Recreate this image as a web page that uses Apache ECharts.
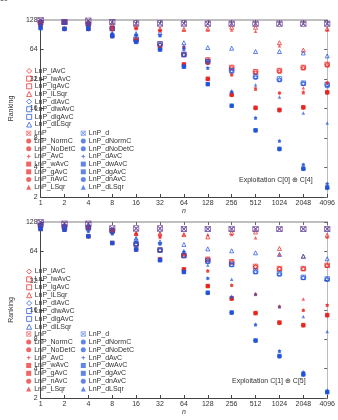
<!DOCTYPE html>
<html>
<head>
<meta charset="utf-8">
<script src="https://cdn.jsdelivr.net/npm/echarts@6/dist/echarts.min.js"></script>
<style>
  html, body { margin: 0; padding: 0; background: #fff; }
  #chart { width: 338px; height: 420px; }
</style>
</head>
<body>
<div id="chart"></div>
<script>
// x values (n) and y tick values
var nVals = [1, 2, 4, 8, 16, 32, 64, 128, 256, 512, 1024, 2048, 4096];
var yTicks = [2, 4, 8, 16, 32, 64, 128];

// ---- upper panel: Exploitation C[0] + C[4] ----
var U_lAvC    = [120, 122, 116, 104, 80, 72, 57, 50, 42, 38, 39, 42, 45];
var U_lwAvC   = [120, 122, 116, 104, 79, 71, 56, 49, 41, 37, 38, 41, 44];
var U_lgAvC   = [120, 122, 116, 105, 81, 73, 57, 50, 42, 38, 39, 42, 45];
var U_lLSqr   = [126, 122, 122, 114, 110, 104, 103, 104, 108, 108, 75, 63, 104];
var U_dlAvC   = [120, 122, 116, 104, 80, 72, 57, 48, 39, 33.5, 31.5, 29, 28];
var U_dlwAvC  = [120, 122, 116, 104, 79, 71, 56, 47, 38, 33, 31, 28.5, 27];
var U_dlgAvC  = [120, 122, 116, 105, 81, 73, 57, 48, 39, 34, 32, 29, 28];
var U_dlLSqr  = [120, 122, 116, 93, 93, 95, 75, 67, 66, 61, 61, 59, 55];
var U_LnP     = [128, 122, 126, 122, 118, 118, 118, 117, 117, 117, 117, 117, 117];
var U_NormC   = [113, 104, 104, 88, 79, 66, 45, 32, 22, 16.3, 15.5, 16.5, 23.5];
var U_NoDetC  = [112, 104, 104, 88, 79, 66, 45, 32.2, 22.2, 16.3, 15.5, 16.5, 23.5];
var U_AvC     = [118, 122, 116, 104, 106, 101, 69, 47, 35.7, 26, 23, 23.7, 29];
var U_wAvC    = [117, 121, 115, 102, 104, 99, 67, 46, 35, 25, 23, 23, 29.3];
var U_gAvC    = [113, 104, 104, 88, 79, 66, 45.2, 32.2, 22.2, 16.3, 15.5, 16.5, 23.5];
var U_nAvC    = [112, 103, 103, 87, 78, 65, 44.5, 31.8, 21.8, 16, 15.2, 16.2, 23];
var U_LSqr    = [124, 122, 120, 110, 106, 101, 101, 101, 101, 98, 70, 26, 101];
var U_d       = [128, 122, 126, 122, 118, 118, 118, 117, 117, 117, 117, 117, 117];
var U_dNormC  = [106, 104, 104, 88, 76.6, 64, 42.8, 28.4, 17.1, 9.6, 6.2, 3.9, 2.5];
var U_dNoDetC = [106, 104, 104, 88, 76.6, 64, 42.8, 28.4, 17.1, 9.6, 6.2, 3.9, 2.5];
var U_dAvC    = [114, 104, 104, 93, 90, 90, 65, 41.8, 24, 12.9, 7.5, 4.3, 2.75];
var U_dwAvC   = [113, 104, 104, 92, 89, 88, 64, 41, 23.5, 12.7, 7.4, 4.25, 2.7];
var U_dgAvC   = [106, 104, 104, 88, 76.6, 64, 42.8, 28.4, 17.1, 9.6, 6.2, 3.9, 2.5];
var U_dnAvC   = [105, 103, 103, 87, 76, 63.5, 42.5, 28.2, 17, 9.5, 6.1, 3.85, 2.45];
var U_dLSqr   = [118, 120, 116, 93, 92, 90, 69, 49, 24, 28, 21, 14.4, 11.4];

// ---- lower panel: Exploitation C[1] + C[5] ----
var L_lAvC    = [118, 114, 112, 104, 76, 66, 58, 52.9, 49.7, 44.5, 42.4, 42.4, 45.9];
var L_lwAvC   = [118, 114, 112, 104, 75.5, 65.5, 57.5, 52.5, 49.2, 44, 42, 42, 45.5];
var L_lgAvC   = [118, 114, 112, 104, 76, 66, 58, 53, 50, 44.8, 42.6, 42.6, 46];
var L_lLSqr   = [118, 114, 112, 104, 97.5, 97.5, 95, 90, 100, 101, 68.5, 57, 93.6];
var L_dlAvC   = [118, 114, 112, 104, 76, 66, 58, 50.5, 46.6, 39.5, 37.5, 34.3, 33.1];
var L_dlwAvC  = [118, 114, 112, 104, 75.5, 65.5, 57.5, 50, 46.2, 39, 37, 34, 32.8];
var L_dlgAvC  = [118, 114, 112, 104, 76, 66, 58, 50.8, 47, 39.8, 37.8, 34.6, 33.3];
var L_dlLSqr  = [118, 114, 112, 104, 87, 80, 75.3, 67.9, 64.8, 61.8, 59.5, 57, 53.7];
var L_LnP     = [128, 123, 123, 110, 110, 110, 108.6, 108.6, 108.6, 108.6, 108.6, 108.6, 108.6];
var L_NormC   = [108.6, 107, 91.5, 78, 67, 53, 41.8, 28.2, 21, 14.9, 11.9, 11.2, 14.2];
var L_NoDetC  = [108.6, 107, 91.5, 78, 67, 53, 41.8, 28.2, 21, 14.9, 11.9, 11.2, 14.2];
var L_AvC     = [110, 107, 112, 104, 97.5, 90, 60, 40.5, 28.9, 23.4, 17.4, 16, 18.1];
var L_wAvC    = [109, 106, 111, 103, 96, 89, 59, 40, 28.5, 23, 17.2, 15.8, 17.8];
var L_gAvC    = [108.6, 107, 91.5, 78, 67, 53, 41.8, 28.2, 21, 14.9, 11.9, 11.2, 14.2];
var L_nAvC    = [108, 106, 91, 77.5, 66.5, 52.5, 41.5, 28, 20.8, 14.7, 11.7, 11, 14];
var L_LSqr    = [118, 114, 112, 104, 97.5, 97.5, 95, 95, 95, 88, 59.5, 20.7, 90];
var L_d       = [128, 123, 123, 110, 110, 110, 108.6, 108.6, 108.6, 108.6, 108.6, 108.6, 108.6];
var L_dNormC  = [108.6, 107, 91.5, 78, 67, 52, 39.3, 24.1, 15.1, 7.8, 5.4, 3.5, 2.3];
var L_dNoDetC = [108.6, 107, 91.5, 78, 67, 52, 39.3, 24.1, 15.1, 7.8, 5.4, 3.5, 2.3];
var L_dAvC    = [110, 107, 103, 97.5, 80, 78, 63.3, 34.1, 22, 11.4, 6.1, 3.7, 2.4];
var L_dwAvC   = [109, 106, 102, 97, 79, 77, 62.5, 33.6, 21.6, 11.2, 6, 3.65, 2.35];
var L_dgAvC   = [108.6, 107, 91.5, 78, 67, 52, 39.3, 24.1, 15.1, 7.8, 5.4, 3.5, 2.3];
var L_dnAvC   = [108, 106, 91, 77.5, 66.5, 51.5, 39, 23.8, 14.9, 7.7, 5.3, 3.45, 2.28];
var L_dLSqr   = [118, 114, 112, 97.5, 87, 76, 65.4, 46.3, 33.1, 23.4, 17.4, 13.7, 9.6];

var legendA = ['LnP_lAvC', 'LnP_lwAvC', 'LnP_lgAvC', 'LnP_lLSqr', 'LnP_dlAvC', 'LnP_dlwAvC', 'LnP_dlgAvC', 'LnP_dlLSqr'];
var legendB = ['LnP', 'LnP_NormC', 'LnP_NoDetC', 'LnP_AvC', 'LnP_wAvC', 'LnP_gAvC', 'LnP_nAvC', 'LnP_LSqr'];
var legendC = ['LnP_d', 'LnP_dNormC', 'LnP_dNoDetC', 'LnP_dAvC', 'LnP_dwAvC', 'LnP_dgAvC', 'LnP_dnAvC', 'LnP_dLSqr'];

var upperRows = [U_lAvC, U_lwAvC, U_lgAvC, U_lLSqr, U_dlAvC, U_dlwAvC, U_dlgAvC, U_dlLSqr,
                 U_LnP, U_NormC, U_NoDetC, U_AvC, U_wAvC, U_gAvC, U_nAvC, U_LSqr,
                 U_d, U_dNormC, U_dNoDetC, U_dAvC, U_dwAvC, U_dgAvC, U_dnAvC, U_dLSqr];
var lowerRows = [L_lAvC, L_lwAvC, L_lgAvC, L_lLSqr, L_dlAvC, L_dlwAvC, L_dlgAvC, L_dlLSqr,
                 L_LnP, L_NormC, L_NoDetC, L_AvC, L_wAvC, L_gAvC, L_nAvC, L_LSqr,
                 L_d, L_dNormC, L_dNoDetC, L_dAvC, L_dwAvC, L_dgAvC, L_dnAvC, L_dLSqr];

var RED = '#e8231f', BLUE = '#1f52dc';
var STAR = 'path://M0,-10L2.6,-2.6L10,0L2.6,2.6L0,10L-2.6,2.6L-10,0L-2.6,-2.6Z';
// square outline with a cross inside
var BOXX = 'path://M-10,-10H10V10H-10Z M-8,-8V8H8V-8Z ' +
           'M-8,-6L-6,-8L0,-2L6,-8L8,-6L2,0L8,6L6,8L0,2L-6,8L-8,6L-2,0Z';

// [symbol, size, hollow, colour] in the same order as the rows
var styles = [
  ['diamond', 4.5, true, RED], ['rect', 3, true, RED], ['rect', 4.5, true, RED], ['triangle', 4, true, RED],
  ['diamond', 4.5, true, BLUE], ['rect', 3, true, BLUE], ['rect', 4.5, true, BLUE], ['triangle', 4, true, BLUE],
  [BOXX, 6, false, RED], ['circle', 4, false, RED], ['circle', 4, false, RED], [STAR, 4.5, false, RED],
  ['rect', 3, false, RED], ['rect', 4.5, false, RED], ['circle', 4, false, RED], ['triangle', 3.5, false, RED],
  [BOXX, 6, false, BLUE], ['circle', 4, false, BLUE], ['circle', 4, false, BLUE], [STAR, 4.5, false, BLUE],
  ['rect', 3, false, BLUE], ['rect', 4.5, false, BLUE], ['circle', 4, false, BLUE], ['triangle', 3.5, false, BLUE]
];
var allNames = legendA.concat(legendB, legendC);

function makeSeries(rows, idx) {
  return rows.map(function (row, k) {
    var s = styles[k];
    return {
      name: allNames[k],
      type: 'scatter',
      xAxisIndex: idx * 2,
      yAxisIndex: idx * 2,
      symbol: s[0],
      symbolSize: s[1],
      clip: false,
      itemStyle: s[2]
        ? { color: 'rgba(255,255,255,0)', borderColor: s[3], borderWidth: 0.9, opacity: 0.8 }
        : { color: s[3], opacity: 0.7 },
      data: nVals.map(function (x, i) { return [x, row[i]]; })
    };
  });
}

function axesFor(g) {
  var lab = { fontSize: 7, color: '#333', fontFamily: 'Liberation Sans', margin: 3,
              formatter: function (v) { return String(Math.round(v)); } };
  return {
    x: [
      { type: 'log', logBase: 2, gridIndex: g, min: 1, max: 4096, interval: 1,
        name: 'n', nameLocation: 'middle', nameGap: 11,
        nameTextStyle: { fontSize: 7, color: '#333', fontFamily: 'Liberation Sans', fontStyle: 'italic' },
        axisLine: { lineStyle: { color: '#444', width: 1 } },
        axisTick: { inside: true, length: 3, lineStyle: { color: '#444' } },
        axisLabel: lab, splitLine: { show: false }, minorTick: { show: false } },
      { type: 'log', logBase: 2, gridIndex: g, min: 1, max: 4096, interval: 1, position: 'top',
        axisLine: { lineStyle: { color: '#aaa', width: 1.5 } },
        axisTick: { inside: true, length: 3, lineStyle: { color: '#666' } },
        axisLabel: { show: false }, splitLine: { show: false } }
    ],
    y: [
      { type: 'log', logBase: 2, gridIndex: g, min: 2, max: 128, interval: 1,
        name: 'Ranking', nameLocation: 'middle', nameGap: 11,
        nameTextStyle: { fontSize: 7, color: '#333', fontFamily: 'Liberation Sans' },
        axisLine: { lineStyle: { color: '#444', width: 1 } },
        axisTick: { inside: true, length: 3, lineStyle: { color: '#444' } },
        axisLabel: lab, splitLine: { show: false } },
      { type: 'log', logBase: 2, gridIndex: g, min: 2, max: 128, interval: 1, position: 'right',
        axisLine: { lineStyle: { color: '#bbb', width: 1 } },
        axisTick: { inside: true, length: 3, lineStyle: { color: '#666' } },
        axisLabel: { show: false }, splitLine: { show: false } }
    ]
  };
}

function legendBlock(names, left, top, gap) {
  return {
    data: names, orient: 'vertical', left: left, top: top, padding: 0,
    itemWidth: 5, itemHeight: 5, itemGap: gap, selectedMode: false,
    itemStyle: { borderWidth: 0.9 },
    textStyle: { fontSize: 7, lineHeight: 7, color: '#333', fontFamily: 'Liberation Sans',
                 padding: [0, 0, 0, -2] }
  };
}

var myChart = echarts.init(document.getElementById('chart'));
var a0 = axesFor(0), a1 = axesFor(1);
var option = {
  animation: false,
  grid: [
    { left: 18, top: 20, width: 312, height: 177 },
    { left: 18, top: 222, width: 312, height: 176 }
  ],
  xAxis: [a0.x[0], a0.x[1], a1.x[0], a1.x[1]],
  yAxis: [a0.y[0], a0.y[1], a1.y[0], a1.y[1]],
  legend: [
    legendBlock(legendA, 26.2, 67.5, 0.65),
    legendBlock(legendB, 26.2, 129.8, 0.7),
    legendBlock(legendC, 80.8, 129.8, 0.7),
    legendBlock(legendA, 26.2, 268, 0.9),
    legendBlock(legendB, 26.2, 330.6, 0.85),
    legendBlock(legendC, 80.8, 330.6, 0.85)
  ],
  graphic: [
    { type: 'text', left: 0, top: -4, style: { text: '10', fontSize: 7, fill: '#333', fontFamily: 'Liberation Sans' } },
    { type: 'text', left: 239, top: 177, style: { text: 'Exploitation C[0] \u2295 C[4]', fontSize: 7, fill: '#333', fontFamily: 'Liberation Sans' } },
    { type: 'text', left: 232, top: 378, style: { text: 'Exploitation C[1] \u2295 C[5]', fontSize: 7, fill: '#333', fontFamily: 'Liberation Sans' } }
  ],
  series: makeSeries(upperRows, 0).concat(makeSeries(lowerRows, 1))
};
myChart.setOption(option);
</script>
</body>
</html>
